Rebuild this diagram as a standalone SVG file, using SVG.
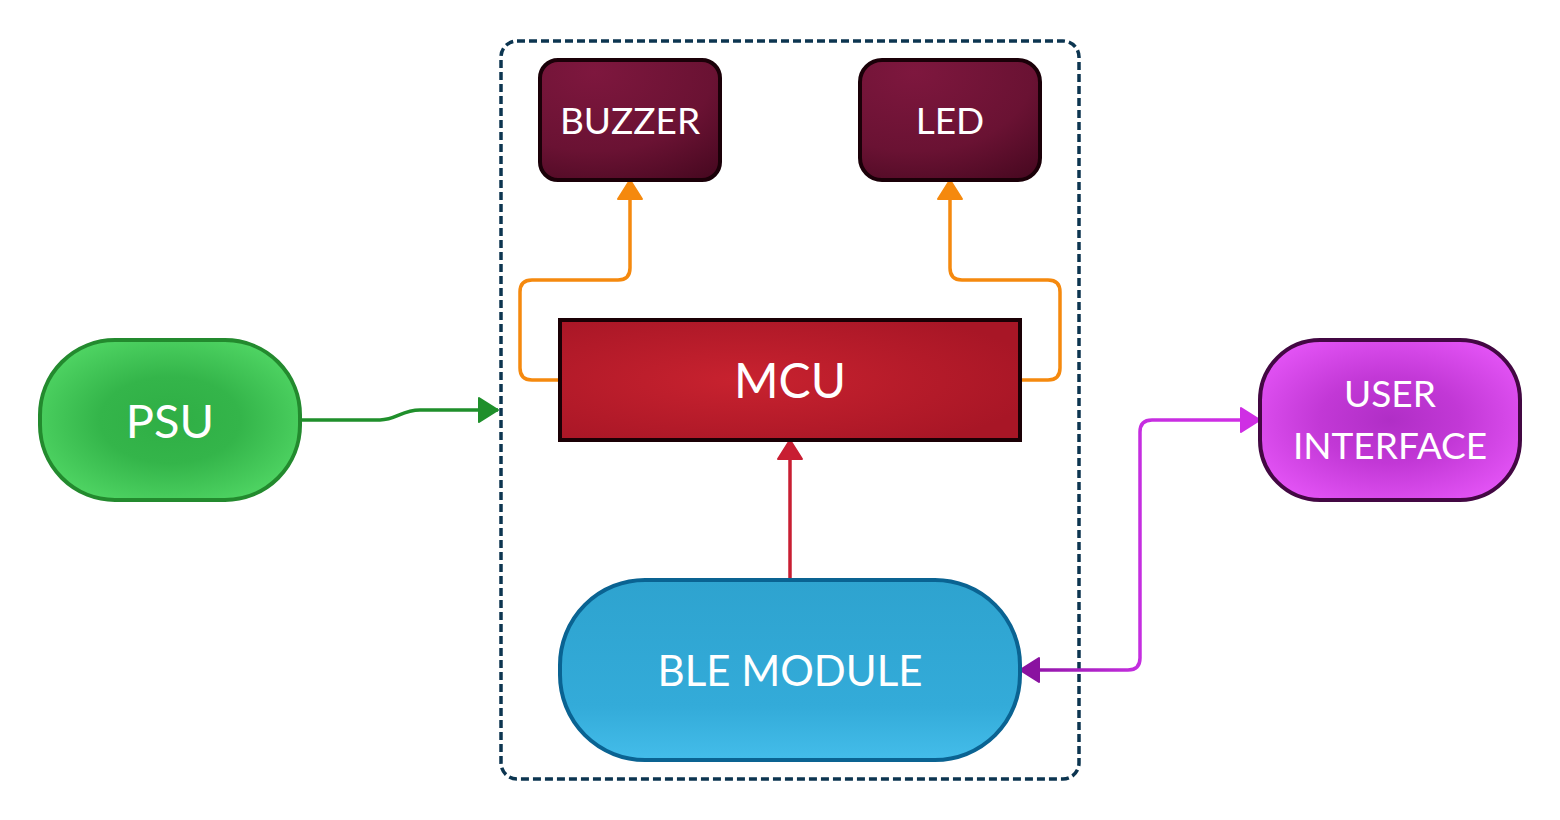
<svg xmlns="http://www.w3.org/2000/svg" width="1560" height="820" viewBox="0 0 1560 820">
<defs>
<style>
.lbl{font-family:Lato,"Open Sans","Liberation Sans",sans-serif;fill:#ffffff;text-anchor:middle}
.conn{fill:none;stroke-width:3.5;stroke-linejoin:round}
</style>
<radialGradient id="gPsu" cx="50%" cy="50%" r="60%">
<stop offset="0" stop-color="#2fae45"/><stop offset="0.45" stop-color="#34b54a"/><stop offset="1" stop-color="#52d866"/>
</radialGradient>
<radialGradient id="gUi" cx="50%" cy="50%" r="60%">
<stop offset="0" stop-color="#b02ec6"/><stop offset="0.45" stop-color="#c238d6"/><stop offset="1" stop-color="#e454f6"/>
</radialGradient>
<radialGradient id="gMcu" cx="40%" cy="50%" r="65%">
<stop offset="0" stop-color="#c8222f"/><stop offset="1" stop-color="#a81626"/>
</radialGradient>
<radialGradient id="gBox" cx="30%" cy="10%" r="110%">
<stop offset="0" stop-color="#7e173e"/><stop offset="0.6" stop-color="#6a1233"/><stop offset="1" stop-color="#470820"/>
</radialGradient>
<linearGradient id="gBle" x1="0" y1="0" x2="0" y2="1">
<stop offset="0" stop-color="#2ea3cf"/><stop offset="0.7" stop-color="#33abd9"/><stop offset="1" stop-color="#44bdea"/>
</linearGradient>
<linearGradient id="gMag" gradientUnits="userSpaceOnUse" x1="1020" y1="0" x2="1260" y2="0">
<stop offset="0" stop-color="#8a12a0"/><stop offset="0.5" stop-color="#c52ee0"/><stop offset="1" stop-color="#d22ee6"/>
</linearGradient>
<marker id="aGreen" markerUnits="userSpaceOnUse" markerWidth="24" markerHeight="28" refX="21" refY="14" orient="auto"><path d="M2,2 L21,14 L2,26 Z" fill="#1f8f2b" stroke="#1f8f2b" stroke-width="2" stroke-linejoin="round"/></marker>
<marker id="aOrange" markerUnits="userSpaceOnUse" markerWidth="24" markerHeight="28" refX="21" refY="14" orient="auto"><path d="M2,2 L21,14 L2,26 Z" fill="#f5890e" stroke="#f5890e" stroke-width="2" stroke-linejoin="round"/></marker>
<marker id="aRed" markerUnits="userSpaceOnUse" markerWidth="24" markerHeight="28" refX="21" refY="14" orient="auto"><path d="M2,2 L21,14 L2,26 Z" fill="#c81e32" stroke="#c81e32" stroke-width="2" stroke-linejoin="round"/></marker>
<marker id="aMagE" markerUnits="userSpaceOnUse" markerWidth="24" markerHeight="28" refX="21" refY="14" orient="auto"><path d="M2,2 L21,14 L2,26 Z" fill="#cf2ee4" stroke="#cf2ee4" stroke-width="2" stroke-linejoin="round"/></marker>
<marker id="aMagS" markerUnits="userSpaceOnUse" markerWidth="24" markerHeight="28" refX="21" refY="14" orient="auto-start-reverse"><path d="M2,2 L21,14 L2,26 Z" fill="#8a12a0" stroke="#8a12a0" stroke-width="2" stroke-linejoin="round"/></marker>
</defs>
<rect width="1560" height="820" fill="#ffffff"/>

<g id="container">
<rect x="501" y="41" width="578" height="738" rx="16" fill="none" stroke="#0c3550" stroke-width="3.5" stroke-dasharray="8,4"/>
</g>

<g id="connectors">
<path class="conn" d="M300,420 H380 C396,420 402,410 420,410 H498" stroke="#1f8f2b" marker-end="url(#aGreen)"/>
<path class="conn" d="M560,380 H532 Q520,380 520,368 V292 Q520,280 532,280 H618 Q630,280 630,268 V180" stroke="#f5890e" marker-end="url(#aOrange)"/>
<path class="conn" d="M1020,380 H1048 Q1060,380 1060,368 V292 Q1060,280 1048,280 H962 Q950,280 950,268 V180" stroke="#f5890e" marker-end="url(#aOrange)"/>
<path class="conn" d="M790,580 V440" stroke="#c81e32" marker-end="url(#aRed)"/>
<path class="conn" d="M1020,670 H1128 Q1140,670 1140,658 V432 Q1140,420 1152,420 H1260" stroke="url(#gMag)" marker-start="url(#aMagS)" marker-end="url(#aMagE)"/>
</g>

<g id="psu">
<rect x="40" y="340" width="260" height="160" rx="75" fill="url(#gPsu)" stroke="#238a2e" stroke-width="4"/>
<text class="lbl" x="170" y="438" font-size="47">PSU</text>
</g>

<g id="buzzer">
<rect x="540" y="60" width="180" height="120" rx="18" fill="url(#gBox)" stroke="#1a0008" stroke-width="4"/>
<text class="lbl" x="630" y="134" font-size="37">BUZZER</text>
</g>

<g id="led">
<rect x="860" y="60" width="180" height="120" rx="22" fill="url(#gBox)" stroke="#1a0008" stroke-width="4"/>
<text class="lbl" x="950" y="134" font-size="37">LED</text>
</g>

<g id="mcu">
<rect x="560" y="320" width="460" height="120" fill="url(#gMcu)" stroke="#1a0005" stroke-width="4"/>
<text class="lbl" x="790" y="398" font-size="48">MCU</text>
</g>

<g id="ble">
<rect x="560" y="580" width="460" height="180" rx="85" fill="url(#gBle)" stroke="#0a6392" stroke-width="4"/>
<text class="lbl" x="790" y="686" font-size="42">BLE MODULE</text>
</g>

<g id="ui">
<rect x="1260" y="340" width="260" height="160" rx="60" fill="url(#gUi)" stroke="#430843" stroke-width="4"/>
<text class="lbl" x="1390" y="407" font-size="37">USER</text>
<text class="lbl" x="1390" y="459" font-size="37">INTERFACE</text>
</g>
</svg>
